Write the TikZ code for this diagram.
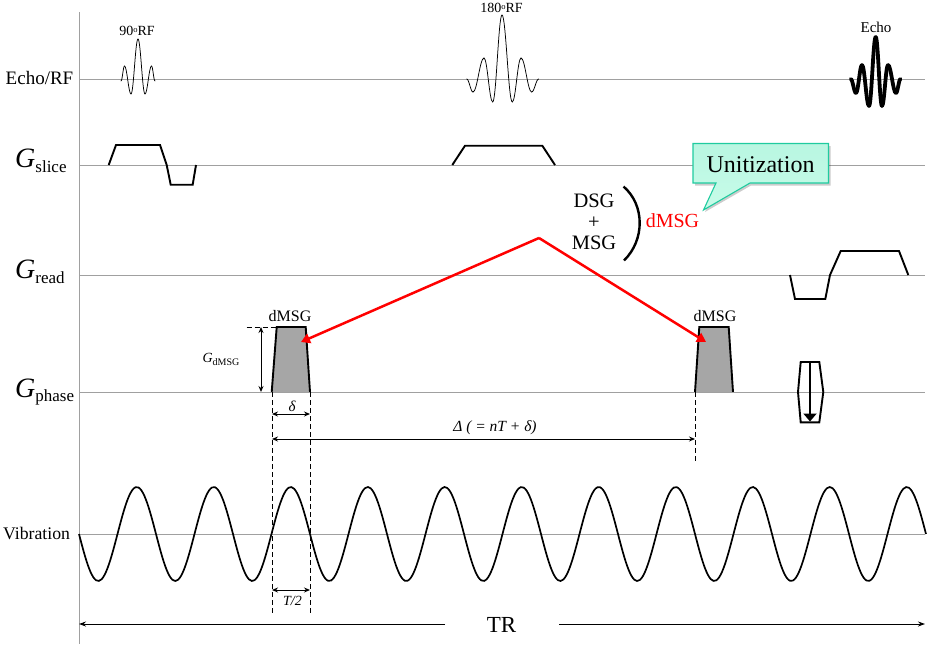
\documentclass[tikz,border=0pt]{standalone}
\usepackage{fontspec}
\setmainfont{Liberation Serif}
\usetikzlibrary{arrows.meta,calc}
\definecolor{axisgrey}{HTML}{A0A0A0}
\definecolor{pulsegrey}{HTML}{A6A6A6}
\definecolor{calloutedge}{HTML}{1FCB9F}
\definecolor{callouttop}{HTML}{B8F6E1}
\definecolor{calloutmid}{HTML}{D6FBEF}
\definecolor{calloutbot}{HTML}{C8FCE9}
\tikzset{
  axisline/.style={draw=axisgrey,line width=0.9pt},
  grad/.style={draw=black,line width=1.9pt,line join=miter},
  dimline/.style={draw=black,line width=0.9pt,{Stealth[length=6pt,width=5pt]}-{Stealth[length=6pt,width=5pt]}},
  guide/.style={draw=black,line width=0.8pt,dash pattern=on 5pt off 3pt},
  lab/.style={inner sep=0pt,font=\fontsize{17.7}{20}\selectfont},
  tiny/.style={inner sep=0pt,font=\fontsize{14}{16}\selectfont},
  small/.style={inner sep=0pt,font=\fontsize{16}{18}\selectfont},
  mid/.style={inner sep=0pt,font=\fontsize{20.5}{22}\selectfont},
}
\newcommand{\Gsym}[1]{{\fontsize{28}{30}\selectfont\itshape G}{\fontsize{17}{20}\selectfont\raisebox{-4.5pt}{#1}}}
\newcommand{\rfwave}[4]{% width, x0, y0, list
  \foreach \xx/\yy [remember=\xx as \px (initially #2), remember=\yy as \py (initially #3)] in {#4}
    \draw[black,line width=#1,line cap=round]
      (\px,\py) .. controls ({\px+0.38*(\xx-\px)},\py) and ({\xx-0.38*(\xx-\px)},\yy) .. (\xx,\yy);
}
\begin{document}
\begin{tikzpicture}[x=1pt,y=-1pt]
\useasboundingbox (0,0) rectangle (932,656);
% axes
\draw[axisline] (79,12) -- (79,644);
\foreach \yy in {79,165,275,392,534} \draw[axisline] (79,\yy) -- (925,\yy);
% pulses filled
\draw[grad,fill=pulsegrey] (271.7,392) -- (276.7,327) -- (305.7,327) -- (310,392);
\draw[grad,fill=pulsegrey] (695,392) -- (699.3,327) -- (728.7,327) -- (733,392);
\draw[axisline] (271,392) -- (311,392) (694,392) -- (734,392);
% RF
\rfwave{0.75pt}{121}{81}{124.5/66,131/94,138/39,145/94,151.5/66,155/81}
\rfwave{0.75pt}{466.7}{79}{473/92,484/58,492.7/102,502/15,512.3/102,521/58,531.7/92,538.7/79}
\rfwave{3.8pt}{850.7}{79}{856/93,862/65,869/106,875.7/37,882/106,888/65,896/93,900.5/79}
% gradients
\draw[grad] (108.7,165) -- (116,145) -- (160,145) -- (166.7,165) -- (170.7,184.7) -- (192.7,184.7) -- (196,165);
\draw[grad] (452.3,165) -- (465,145.7) -- (542.3,145.7) -- (555,165);
\draw[grad] (790,275) -- (795,299) -- (825.3,299) -- (830,275) -- (840.7,251) -- (899,251) -- (908.3,275);
\draw[grad] (800.7,362) -- (819.3,362) -- (823.3,392) -- (819.3,422.3) -- (800.7,422.3) -- (798,392) -- cycle;
\draw[draw=black,line width=1.9pt,-{Triangle[length=8pt,width=13pt]}] (810,362) -- (810,421.5);
% vibration
\draw[black,line width=1.7pt,domain=0:11,samples=300,smooth] plot ({79+77*\x},{534+47*sin(360*\x)});
% guides
\coordinate (dA) at (272,392); \coordinate (dAe) at (272,615);
\coordinate (dB) at (310,392); \coordinate (dBe) at (310,615);
\coordinate (dC) at (695,392); \coordinate (dCe) at (695,461);
\draw[guide] (dA) -- (dAe);
\draw[guide] (dB) -- (dBe);
\draw[guide] (dC) -- (dCe);
\draw[guide] (246.7,327) -- (276,327);
% dimensions
\draw[dimline] (261,327) -- (261,392);
\draw[dimline] (272,414) -- (310,414);
\draw[dimline] (272,439) -- (695,439);
\draw[dimline] (272,590) -- (310,590);
\node[inner sep=0pt,font=\fontsize{23}{25}\selectfont] (tr) at (501.5,624.5) {TR};
\coordinate (trL) at (79,624); \coordinate (trR) at (925,624);
\draw[draw=black,line width=0.9pt,-{Stealth[length=7pt,width=5pt]}] (445,624) -- (trL);
\draw[draw=black,line width=0.9pt,-{Stealth[length=7pt,width=5pt]}] (559,624) -- (trR);
% red arrows
\coordinate (apex) at (539,238);
\coordinate (tipL) at (301,342);
\coordinate (tipR) at (706,342);
\draw[draw=red,line width=2.5pt,-{Triangle[length=9pt,width=10pt]}] (apex) -- (tipL);
\draw[draw=red,line width=2.5pt,-{Triangle[length=9pt,width=10pt]}] (apex) -- (tipR);
% paren
\draw[black,line width=2.4pt] (623.5,186.5) .. controls (645,205) and (645,240) .. (624,260.5);
% callout
\fill[black,opacity=0.2] (695,146) -- (830.5,146) -- (830.5,185.5) -- (751,185.5) -- (705,212) -- (717.5,185.5) -- (695,185.5) -- cycle;
\path[draw=calloutedge,line width=1.1pt,top color=callouttop,middle color=calloutmid,bottom color=calloutbot]
  (693,143.5) -- (828.5,143.5) -- (828.5,183) -- (750,183) -- (703.5,210) -- (716,183) -- (693,183) -- cycle;
\node[inner sep=0pt,font=\fontsize{24}{26}\selectfont] (unit) at (760.5,164.5) {Unitization};
% labels
\node[inner sep=0pt,font=\fontsize{19}{21}\selectfont,anchor=east] (l1) at (73.5,78) {Echo/RF};
\node[anchor=west,inner sep=0pt] (l2) at (15,161) {\Gsym{slice}};
\node[anchor=west,inner sep=0pt] (l3) at (15,272) {\Gsym{read}};
\node[anchor=west,inner sep=0pt] (l4) at (15,392) {\Gsym{phase}};
\node[lab,anchor=west] (l5) at (3,533) {Vibration};
\node[tiny] (rf90) at (137,31) {90\raisebox{3pt}{\fontsize{8.5}{9}\selectfont o}RF};
\node[tiny] (rf180) at (501.5,8) {180\raisebox{3pt}{\fontsize{8.5}{9}\selectfont o}RF};
\node[inner sep=0pt,font=\fontsize{15}{17}\selectfont] (echo) at (876,27.5) {Echo};
\node[small] (d1) at (290,316.5) {dMSG};
\node[small] (d2) at (715,316.5) {dMSG};
\node[inner sep=0pt] (gd) at (221,359.5) {{\fontsize{14}{16}\selectfont\itshape G}{\fontsize{10}{12}\selectfont\raisebox{-2.5pt}{dMSG}}};
\node[inner sep=0pt,font=\fontsize{15}{17}\selectfont\itshape] (dl) at (292,406.5) {δ};
\node[inner sep=0pt,font=\fontsize{15.5}{17}\selectfont\itshape] (Dl) at (495,427.5) {Δ ( = nT + δ)};
\node[inner sep=0pt,font=\fontsize{14}{16}\selectfont\itshape] (T2) at (292.5,600.5) {T/2};
\node[mid,align=center] (dsg) at (594,222) {DSG\\[-1pt]+\\[-1pt]MSG};
\node[inner sep=0pt,font=\fontsize{20}{22}\selectfont,text=red] (dm) at (672.5,221) {dMSG};
\end{tikzpicture}
\end{document}
